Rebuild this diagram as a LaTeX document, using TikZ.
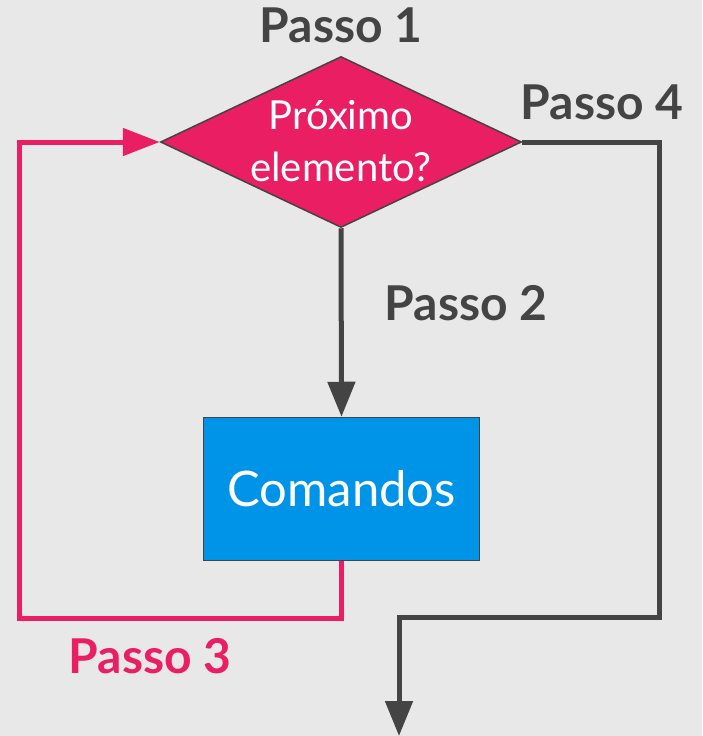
\documentclass[tikz,border=0pt]{standalone}
\usepackage{fontspec}
\setmainfont{Lato}
\usepackage{xcolor}
\usepackage{tikz}
\usetikzlibrary{arrows.meta}
\usetikzlibrary{shapes.geometric}
\definecolor{bgray}{HTML}{E8E8E8}
\definecolor{dgray}{HTML}{444444}
\definecolor{rosa}{HTML}{E91E63}
\definecolor{azul}{HTML}{0094E8}
\tikzstyle{decisao} = [diamond, draw=dgray, line width=1.5pt, fill=rosa,
	minimum width=361pt, minimum height=171pt, inner sep=0pt,
	text=white, font=\fontsize{40}{52}\selectfont]
\tikzstyle{bloco} = [draw=dgray, line width=1.5pt, fill=azul,
	minimum width=276pt, minimum height=143pt,
	text=white, font=\fontsize{49}{50}\selectfont]
\tikzstyle{passo} = [anchor=base, inner sep=0pt, font=\fontsize{48}{50}\selectfont\bfseries]
\tikzstyle{seta} = [-{Triangle[length=35pt, width=27pt]}, line width=5pt, draw=dgray]
\tikzstyle{setarosa} = [-{Triangle[length=37pt, width=27pt]}, line width=5pt, draw=rosa]
\newcommand{\semcaixa}[1]{\smash{\makebox[0pt]{\raisebox{-9pt}{\begin{tabular}{@{}c@{}}#1\end{tabular}}}}}

\begin{document}
\begin{tikzpicture}[x=1pt, y=-1pt]
			\fill[bgray] (0,0) rectangle (702,736);
			\useasboundingbox (0,0) rectangle (702,736);
			
			\node (prox) [decisao] at (341,142) {\semcaixa{Próximo\\elemento?}};
			\node (cmd) [bloco] at (341.5,489) {Comandos};
			
			\node (p1) [passo, text=dgray] at (341,42) {Passo 1};
			\node (p2) [passo, text=dgray] at (466,320) {Passo 2};
			\node (p3) [passo, text=rosa] at (150,673) {Passo 3};
			\node (p4) [passo, text=dgray] at (602,119) {Passo 4};
			
			\coordinate (volta) at (19,618);
			\coordinate (desvio) at (659,617);
			\coordinate (saida) at (399,736);
			
			\draw [seta] (prox.south) -- (cmd.north);
			\draw [setarosa] (cmd.south) |- (volta) |- (prox.west);
			\draw [seta] (prox.east) -| (desvio) -| (saida);
		\end{tikzpicture}
\end{document}
